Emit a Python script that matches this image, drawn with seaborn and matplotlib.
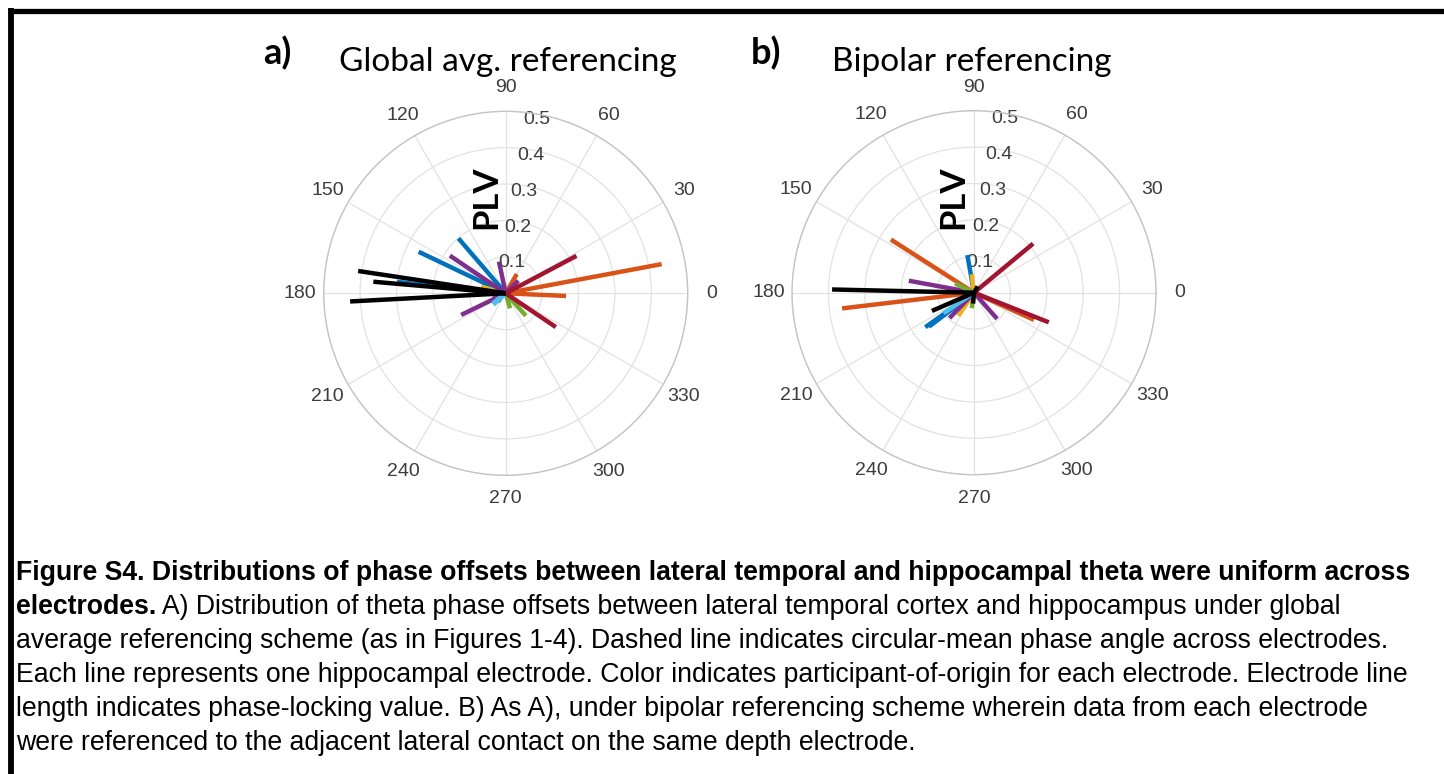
import numpy as np
import matplotlib
matplotlib.use("Agg")
import matplotlib.pyplot as plt
import seaborn as sns
from matplotlib.lines import Line2D
from matplotlib.transforms import ScaledTranslation

sns.set_theme(style="white")
plt.rcParams['font.family'] = ['Liberation Sans', 'DejaVu Sans']

# MATLAB default colour order (participants) + black
participant_colors = ['#0072BD', '#D95319', '#EDB120', '#7E2F8E',
                      '#77AC30', '#4DBEEE', '#A2142F', '#000000']

# Panel a: global average referencing (phase offset in degrees, PLV, participant index)
a_angle = [130.7, 154.5, 174.0, 10.6, 357.5, 60.0, 165.0, 45.0, 102.0, 146.0, 205.9,
           312.0, 286.0, 223.0, 218.0, 27.9, 326.0, 171.4, 175.0, 183.0]
a_plv = [0.199, 0.265, 0.300, 0.436, 0.166, 0.061, 0.070, 0.049, 0.089, 0.185, 0.136,
         0.083, 0.043, 0.046, 0.045, 0.220, 0.166, 0.410, 0.365, 0.428]
a_part = [0, 0, 0, 1, 1, 1, 2, 3, 3, 3, 3,
          4, 4, 5, 5, 6, 6, 7, 7, 7]

# Panel b: bipolar referencing
b_angle = [215.3, 217.0, 100.0, 335.6, 147.4, 186.8, 236.0, 97.0, 311.5, 169.6, 226.0,
           261.5, 154.0, 214.0, 39.7, 338.4, 178.7, 203.4, 265.0, 60.0]
b_plv = [0.164, 0.155, 0.105, 0.181, 0.271, 0.365, 0.077, 0.051, 0.096, 0.182, 0.097,
         0.043, 0.058, 0.101, 0.211, 0.221, 0.390, 0.126, 0.030, 0.020]
b_part = [0, 0, 0, 1, 1, 1, 2, 2, 3, 3, 3,
          4, 4, 5, 6, 6, 7, 7, 7, 7]

theta_ticks = list(range(0, 360, 30))
r_ticks = [0, 0.1, 0.2, 0.3, 0.4, 0.5]
r_tick_labels = ['0', '0.1', '0.2', '0.3', '0.4', '0.5']

panel_titles = ['Global avg. referencing', 'Bipolar referencing']
panel_letters = ['a)', 'b)']

caption_lines = [
    ("Figure S4. Distributions of phase offsets between lateral temporal and hippocampal theta were uniform across", ""),
    ("electrodes.", " A) Distribution of theta phase offsets between lateral temporal cortex and hippocampus under global"),
    ("", "average referencing scheme (as in Figures 1-4). Dashed line indicates circular-mean phase angle across electrodes."),
    ("", "Each line represents one hippocampal electrode. Color indicates participant-of-origin for each electrode. Electrode line"),
    ("", "length indicates phase-locking value. B) As A), under bipolar referencing scheme wherein data from each electrode"),
    ("", "were referenced to the adjacent lateral contact on the same depth electrode."),
]

W, H = 1444, 774
fig = plt.figure(figsize=(W / 100, H / 100), dpi=100)
fig.patch.set_facecolor('white')

R = 182
centers = [(505.7, 293.3), (974.0, 292.7)]
plv_pos = [(486, 197), (953, 197)]
title_pos = [(508, 71), (972, 71)]
letter_pos = [(277, 53), (766, 53)]

datasets = [(a_angle, a_plv, a_part), (b_angle, b_plv, b_part)]
label_color = '#3c3c3c'

for i, (cx, cy) in enumerate(centers):
    ax = fig.add_axes([(cx - R) / W, (H - cy - R) / H, 2 * R / W, 2 * R / H],
                      projection='polar')
    ax.set_facecolor('white')
    ang, plv, part = datasets[i]
    order = np.argsort(part, kind='stable')
    for k in order:
        th = np.deg2rad(ang[k])
        ax.plot([th, th], [0, plv[k]], color=participant_colors[part[k]],
                lw=3.2, solid_capstyle='butt', zorder=3)
    ax.set_ylim(0, 0.5)
    ax.set_yticks(r_ticks)
    ax.set_yticklabels(r_tick_labels, fontsize=14, color=label_color)
    ax.set_rlabel_position(80)
    shift = ScaledTranslation(-14 / 100, -14 / 100, fig.dpi_scale_trans)
    for lab in ax.get_yticklabels():
        lab.set_transform(lab.get_transform() + shift)
    ax.set_thetagrids(theta_ticks, [str(t) for t in theta_ticks],
                      fontsize=14, color=label_color)
    ax.tick_params(axis='x', pad=4)
    ax.grid(True, color='#e2e2e2', lw=0.9)
    ax.spines['polar'].set_color('#c4c4c4')
    ax.spines['polar'].set_linewidth(1.0)

    px, py = plv_pos[i]
    fig.text(px / W, 1 - py / H, 'PLV', rotation=90, fontsize=25,
             fontweight='bold', family=['Lato', 'DejaVu Sans'],
             ha='center', va='center', color='black')
    tx, ty = title_pos[i]
    fig.text(tx / W, 1 - ty / H, panel_titles[i], fontsize=24,
             family=['Lato', 'DejaVu Sans'], ha='center', va='baseline', color='black')
    lx, ly = letter_pos[i]
    fig.text(lx / W, 1 - ly / H, panel_letters[i], fontsize=26, fontweight='bold',
             family=['Lato', 'DejaVu Sans'], ha='center', va='center', color='black')

# Caption: fit font size so first line spans the reference width
renderer = fig.canvas.get_renderer()
target_w = 1402
probe = fig.text(0, 0, caption_lines[0][0], fontsize=17, fontweight='bold')
w = probe.get_window_extent(renderer).width
probe.remove()
cap_fs = 17 * target_w / w

x0 = 16
line_y = [573, 607, 641, 675, 709, 743]
for (bold_part, reg_part), y in zip(caption_lines, line_y):
    x = x0
    if bold_part:
        t = fig.text(x / W, 1 - y / H, bold_part, fontsize=cap_fs, fontweight='bold',
                     ha='left', va='center', color='black')
        x = t.get_window_extent(renderer).x1
    if reg_part:
        fig.text(x / W, 1 - y / H, reg_part, fontsize=cap_fs,
                 ha='left', va='center', color='black')

# Frame lines (top and left)
fig.add_artist(Line2D([8 / W, 1.0], [1 - 10.5 / H, 1 - 10.5 / H], color='black',
                      lw=3.8, transform=fig.transFigure, solid_capstyle='butt'))
fig.add_artist(Line2D([11 / W, 11 / W], [1 - 8 / H, 0.0], color='black',
                      lw=4.2, transform=fig.transFigure, solid_capstyle='butt'))

fig.savefig('out.png', dpi=100, facecolor='white')
